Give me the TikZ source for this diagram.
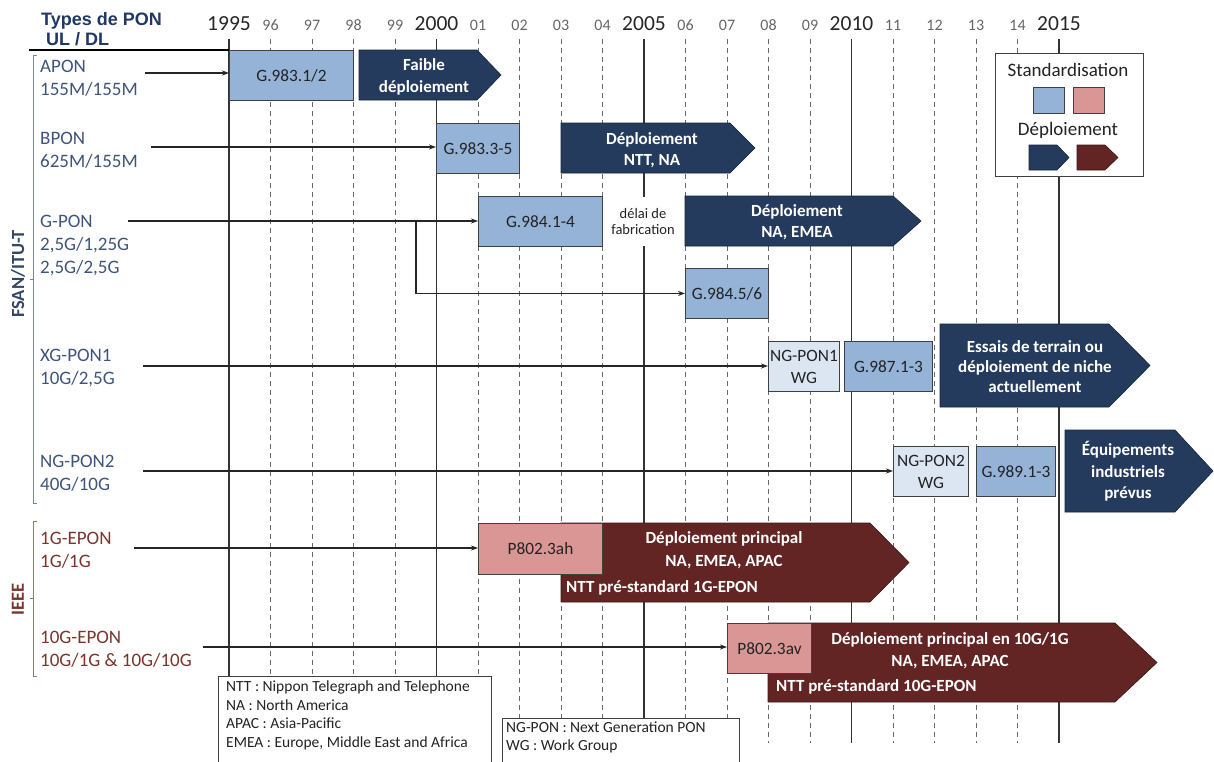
\documentclass[tikz,border=0pt]{standalone}
\usepackage{fontspec}
\setmainfont{Carlito}
\newfontfamily\headfont{Liberation Sans}
\usetikzlibrary{arrows.meta,calc}
\newcommand*{\xYear}{229}
\newcommand*{\dYear}{41.5}
\newcommand*{\yTop}{39}
\newcommand*{\yBot}{743}

\definecolor{headnavy}{RGB}{31,56,100}
\definecolor{fsantxt}{RGB}{62,84,122}
\definecolor{ieeetxt}{RGB}{122,52,44}
\definecolor{stdblue}{RGB}{149,179,215}
\definecolor{wgblue}{RGB}{220,230,242}
\definecolor{stdpink}{RGB}{217,150,148}
\definecolor{deplnavy}{RGB}{36,59,94}
\definecolor{deplred}{RGB}{99,37,35}
\definecolor{gridgray}{RGB}{105,105,105}
\definecolor{boxtxt}{RGB}{35,35,35}

\tikzset{
  gridsolid/.style={draw=black!80, line width=1.1pt},
  griddash/.style={draw=gridgray, line width=0.9pt, dash pattern=on 5pt off 4pt},
  yrbig/.style={font=\fontsize{21.5}{24}\selectfont, text=black!85, anchor=base, inner sep=0pt},
  yrsmall/.style={font=\fontsize{16}{18}\selectfont, text=black!60, anchor=base, inner sep=0pt},
  fsanlbl/.style={font=\fontsize{19}{23}\selectfont, text=fsantxt, align=left, anchor=north west, inner sep=0pt},
  ieeelbl/.style={fsanlbl, text=ieeetxt},
  stdbox/.style={draw=black!75, line width=0.9pt, fill=stdblue, anchor=north west, inner sep=1pt,
    font=\fontsize{17.3}{22}\selectfont, text=boxtxt, align=center},
  wgbox/.style={stdbox, fill=wgblue},
  ieeebox/.style={stdbox, fill=stdpink},
  deplo/.style={fill=deplnavy, draw=deplnavy!60!black, line width=0.6pt},
  deplr/.style={fill=deplred, draw=deplred!60!black, line width=0.6pt},
  depltxt/.style={font=\bfseries\fontsize{17}{21.5}\selectfont, text=white, align=center, inner sep=0pt},
  conn/.style={-{Stealth[length=7pt,width=5pt]}, line width=1.1pt, draw=black!85},
  notebox/.style={fill=white, draw=black!75, line width=0.9pt},
  notetxt/.style={font=\fontsize{15.5}{18.5}\selectfont, text=boxtxt, align=left, anchor=north west, inner sep=0pt},
}

\begin{document}
\begin{tikzpicture}[x=1pt,y=-1pt]
\useasboundingbox (0,0) rectangle (1214,761);

% time axis
\foreach \i/\lab in {1/96,2/97,3/98,4/99,6/01,7/02,8/03,9/04,11/06,12/07,13/08,14/09,16/11,17/12,18/13,19/14} {
  \draw[griddash] (\xYear+\dYear*\i,\yTop) -- (\xYear+\dYear*\i,\yBot);
  \node[yrsmall] (yr\i) at (\xYear+\dYear*\i,30) {\lab};
}
\foreach \i/\lab in {0/1995,5/2000,10/2005,15/2010,20/2015} {
  \draw[gridsolid] (\xYear+\dYear*\i,\yTop) -- (\xYear+\dYear*\i,\yBot);
  \node[yrbig] (yr\i) at (\xYear+\dYear*\i,30.5) {\lab};
}

% header
\node[anchor=base west, inner sep=0pt, text=headnavy, font=\headfont\bfseries\fontsize{18}{20}\selectfont] (types) at (41,25) {Types de PON};
\node[anchor=base west, inner sep=0pt, text=headnavy, font=\headfont\bfseries\fontsize{18}{20}\selectfont] (uldl) at (46,45) {UL / DL};
\draw[line width=1.5pt] (29,50) -- (\xYear,50);

% families
\draw[fsantxt!70, line width=0.8pt] (37,55) -- (33,55) -- (33,503) -- (37,503);
\draw[fsantxt!70, line width=0.8pt] (33,279) -- (30,279);
\node[rotate=90, inner sep=0pt, text=fsantxt!85!black, font=\bfseries\fontsize{18.5}{20}\selectfont] (fsan) at (18,274) {FSAN/ITU-T};
\draw[ieeetxt!70, line width=0.8pt] (37,521) -- (33,521) -- (33,676) -- (37,676);
\draw[ieeetxt!70, line width=0.8pt] (33,598) -- (30,598);
\node[rotate=90, inner sep=0pt, text=ieeetxt, font=\bfseries\fontsize{18.5}{20}\selectfont] (ieee) at (18,599) {IEEE};

\node[fsanlbl] (apon) at (40,60) {APON\\155M/155M};
\node[fsanlbl] (bpon) at (40,132) {BPON\\625M/155M};
\node[fsanlbl] (gpon) at (40,215) {G-PON\\2,5G/1,25G\\2,5G/2,5G};
\node[fsanlbl] (xgpon) at (40,349) {XG-PON1\\10G/2,5G};
\node[fsanlbl] (ngpon) at (40,454.5) {NG-PON2\\40G/10G};
\node[ieeelbl] (epon) at (40,532) {1G-EPON\\1G/1G};
\node[ieeelbl] (xepon) at (40,631) {10G-EPON\\10G/1G \& 10G/10G};

% deployment arrows
\filldraw[deplo] (359,50) -- (477,50) -- (501,75) -- (477,100) -- (359,100) -- cycle;
\node[depltxt] (fdep) at (424,77) {Faible\\déploiement};
\filldraw[deplo] (561,123) -- (730,123) -- (755,148) -- (730,173) -- (561,173) -- cycle;
\node[depltxt] (bdep) at (652,150) {Déploiement\\NTT, NA};
\filldraw[deplo] (685,196) -- (893,196) -- (921,221) -- (893,246) -- (685,246) -- cycle;
\node[depltxt] (gdep) at (797,222) {Déploiement\\NA, EMEA};
\filldraw[deplo] (940,324) -- (1109,324) -- (1150,365.5) -- (1109,407) -- (940,407) -- cycle;
\node[depltxt, font=\bfseries\fontsize{17}{20}\selectfont] (xdep) at (1035,367) {Essais de terrain ou\\déploiement de niche\\actuellement};
\filldraw[deplo] (1065,430) -- (1175,430) -- (1213,471) -- (1175,512) -- (1065,512) -- cycle;
\node[depltxt] (ndep) at (1128,471.5) {Équipements\\industriels\\prévus};
\filldraw[deplr] (561,523) -- (870,523) -- (909,562.5) -- (870,602) -- (561,602) -- cycle;
\node[depltxt, font=\bfseries\fontsize{17}{23}\selectfont] (e1dep) at (724,550.5) {Déploiement principal\\NA, EMEA, APAC};
\node[depltxt, anchor=west] (e1ntt) at (566,588) {NTT pré-standard 1G-EPON};
\filldraw[deplr] (768,623) -- (1115,623) -- (1157,662.5) -- (1115,702) -- (768,702) -- cycle;
\node[depltxt, font=\bfseries\fontsize{17}{22}\selectfont] (e10dep) at (950,651) {Déploiement principal en 10G/1G\\NA, EMEA, APAC};
\node[depltxt, anchor=west] (e10ntt) at (776,687) {NTT pré-standard 10G-EPON};

% standards
\node[stdbox, minimum width=124, minimum height=50] (g9831) at (229,50) {G.983.1/2};
\node[stdbox, minimum width=83, minimum height=50] (g9833) at (436,123) {G.983.3-5};
\node[stdbox, minimum width=124, minimum height=50] (g9841) at (478,196) {G.984.1-4};
\node[stdbox, minimum width=83, minimum height=50] (g9845) at (685,268) {G.984.5/6};
\node[wgbox, minimum width=71, minimum height=50] (ngwg1) at (768,341) {NG-PON1\\WG};
\node[stdbox, minimum width=88, minimum height=50] (g987) at (844,341) {G.987.1-3};
\node[wgbox, minimum width=75, minimum height=50] (ngwg2) at (893,446) {NG-PON2\\WG};
\node[stdbox, minimum width=79, minimum height=50] (g989) at (976,446) {G.989.1-3};
\node[ieeebox, minimum width=124, minimum height=51] (p8023ah) at (478,523) {P802.3ah};
\node[ieeebox, minimum width=84, minimum height=50] (p8023av) at (727,623) {P802.3av};
\node[fill=white, inner sep=2pt, minimum height=49, text=boxtxt, align=center,
  font=\fontsize{14.5}{16.7}\selectfont] (delai) at (643,221.5) {délai de\\fabrication};

% connectors
\coordinate (aponS) at (145,73);
\coordinate (bponS) at (151,147);
\coordinate (gponS) at (128,221);
\coordinate (gponB) at (416,221);
\coordinate (xgponS) at (143,366);
\coordinate (ngponS) at (143,471);
\coordinate (eponS) at (134,548);
\coordinate (xeponS) at (203,647);
\draw[conn] (aponS) -- (aponS -| g9831.west);
\draw[conn] (bponS) -- (bponS -| g9833.west);
\draw[conn] (gponS) -- (gponS -| g9841.west);
\draw[conn] (gponB) |- (g9845.west);
\draw[conn] (xgponS) -- (xgponS -| ngwg1.west);
\draw[conn] (ngponS) -- (ngponS -| ngwg2.west);
\draw[conn] (eponS) -- (eponS -| p8023ah.west);
\draw[conn] (xeponS) -- (xeponS -| p8023av.west);

% legend
\filldraw[notebox] (995,53) rectangle (1143,176);
\node[anchor=base, inner sep=0pt, text=boxtxt, font=\fontsize{19}{22}\selectfont] (legstd) at (1068,76) {Standardisation};
\node[stdbox, minimum width=31, minimum height=26] (legblue) at (1033,87) {};
\node[ieeebox, minimum width=31, minimum height=26] (legpink) at (1073,87) {};
\node[anchor=base, inner sep=0pt, text=boxtxt, font=\fontsize{19}{22}\selectfont] (legdep) at (1068,135) {Déploiement};
\filldraw[deplo] (1029,145) -- (1057,145) -- (1069,157.5) -- (1057,170) -- (1029,170) -- cycle;
\filldraw[deplr] (1077,145) -- (1105,145) -- (1118,157.5) -- (1105,170) -- (1077,170) -- cycle;

% abbreviations
\filldraw[notebox] (218,676) rectangle (491,775);
\node[notetxt] (abbr1) at (226,681) {NTT : Nippon Telegraph and Telephone\\NA : North America\\APAC : Asia-Pacific\\EMEA : Europe, Middle East and Africa};
\filldraw[notebox] (502,718) rectangle (739,775);
\node[notetxt] (abbr2) at (506,721.5) {NG-PON : Next Generation PON\\WG : Work Group};
\end{tikzpicture}
\end{document}
